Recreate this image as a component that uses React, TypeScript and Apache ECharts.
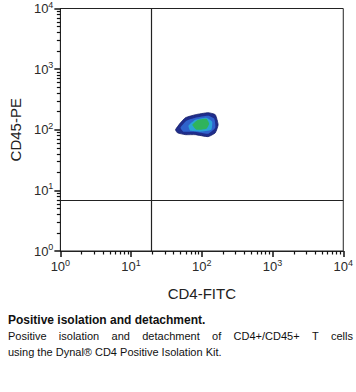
import React, { useEffect, useRef } from "react";
import * as echarts from "echarts";

// Axis ticks (powers of ten) and names
const tickExponents = [0, 1, 2, 3, 4];
const xAxisName = "CD4-FITC";
const yAxisName = "CD45-PE";

// Quadrant gate positions (data units)
const gateX = 19;
const gateY = 7;

// Density contours of the event cluster, outer to inner: [CD4-FITC, CD45-PE]
const contourOuter: number[][] = [
  [42.5, 100], [49.9, 130], [58.7, 158], [81, 177], [123, 191], [155, 177],
  [170, 121], [155, 89], [123, 77], [81, 83], [58.7, 83], [45.3, 89],
];
const contourBlue: number[][] = [
  [49.9, 108], [60.6, 141], [81, 158], [123, 170], [150, 152], [155, 108],
  [123, 86], [81, 93], [55, 93],
];
const contourCyan: number[][] = [
  [64.7, 116], [81, 146], [116, 158], [140, 136], [136, 100], [95, 93], [69, 96],
];
const contourGreen: number[][] = [
  [73.5, 121], [89, 146], [116, 152], [127, 126], [116, 104], [84, 100],
];
const contours = [contourOuter, contourBlue, contourCyan, contourGreen];
const contourColors = ["#1f2d8c", "#2f62cc", "#2aa3d6", "#2fb35c"];

// Caption
const captionTitle = "Positive isolation and detachment.";
const captionLine1Words = ["Positive", "isolation", "and", "detachment", "of", "CD4+/CD45+", "T", "cells"];
const captionLine2 = "using the Dynal\u00ae CD4 Positive Isolation Kit.";

const FONT = "'Liberation Sans', Arial, sans-serif";

const labelRich = {
  b: { fontSize: 13, color: "#2a2a2a", fontFamily: FONT },
  s: { fontSize: 9, color: "#2a2a2a", fontFamily: FONT, padding: [0, 0, 8, 0] },
};
const fmt = (v: number) => {
  const e = Math.round(Math.log10(v));
  return tickExponents.includes(e) ? `{b|10}{s|${e}}` : "";
};

function justifyPositions(words: string[], font: string, x0: number, x1: number): number[] {
  const ctx = document.createElement("canvas").getContext("2d")!;
  ctx.font = font;
  const widths = words.map((w) => ctx.measureText(w).width);
  const total = widths.reduce((a, b) => a + b, 0);
  const gap = (x1 - x0 - total) / (words.length - 1);
  const xs: number[] = [];
  let x = x0;
  widths.forEach((w) => {
    xs.push(x);
    x += w + gap;
  });
  return xs;
}

export default function App() {
  const ref = useRef<HTMLDivElement>(null);
  useEffect(() => {
    const chart = echarts.init(ref.current!, undefined, { renderer: "svg" });
    const bodyFont = `11px ${FONT}`;
    const xs = justifyPositions(captionLine1Words, bodyFont, 8, 353);
    const axisCommon = {
      type: "log" as const,
      min: 1,
      max: 10000,
      logBase: 10,
      nameLocation: "middle" as const,
      nameTextStyle: { fontSize: 15, color: "#222", fontFamily: FONT },
      axisLine: { show: true, lineStyle: { color: "#222", width: 1 } },
      axisTick: { show: true, length: 6, lineStyle: { color: "#111", width: 1.5 } },
      minorTick: { show: true, splitNumber: 9, length: 3.5, lineStyle: { color: "#111", width: 1.2 } },
      splitLine: { show: false },
      axisLabel: { formatter: fmt, rich: labelRich, margin: 7 },
    };
    chart.setOption({
      animation: false,
      grid: { left: 59, right: 12, top: 8, bottom: 141, show: true, borderColor: "#222", borderWidth: 1 },
      xAxis: { ...axisCommon, name: xAxisName, nameGap: 35 },
      yAxis: { ...axisCommon, name: yAxisName, nameGap: 32 },
      series: [
        {
          type: "custom",
          coordinateSystem: "cartesian2d",
          data: contours.map((_, i) => [i]),
          renderItem: (params: any, api: any) => {
            const i = api.value(0);
            const pts = contours[i].map((p) => api.coord(p));
            return {
              type: "polygon",
              shape: { points: pts, smooth: 0.15 },
              style: { fill: contourColors[i], stroke: i === 0 ? "#17206a" : "none", lineWidth: 0.8 },
            };
          },
          markLine: {
            silent: true,
            symbol: "none",
            label: { show: false },
            lineStyle: { color: "#222", width: 1.2, type: "solid" },
            data: [{ xAxis: gateX }, { yAxis: gateY }],
          },
        },
      ],
      graphic: [
        {
          type: "text",
          left: 8,
          top: 314,
          style: { text: captionTitle, font: `bold 12px ${FONT}`, fill: "#111" },
        },
        ...captionLine1Words.map((w, i) => ({
          type: "text",
          left: xs[i],
          top: 330,
          style: { text: w, font: bodyFont, fill: "#111" },
        })),
        {
          type: "text",
          left: 8,
          top: 346,
          style: { text: captionLine2, font: bodyFont, fill: "#111" },
        },
      ],
    });
    return () => chart.dispose();
  }, []);
  return <div ref={ref} style={{ width: 356, height: 392, position: "absolute", left: 0, top: 0 }} />;
}
